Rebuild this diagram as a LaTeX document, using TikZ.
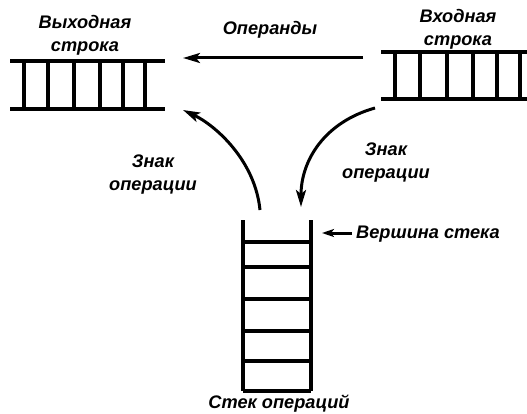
\documentclass[tikz,border=0pt]{standalone}
\usepackage{fontspec}
\setmainfont{Liberation Sans}
\usetikzlibrary{arrows.meta}
\tikzstyle{lbl}=[font=\fontsize{18.2}{23}\selectfont\bfseries\itshape,inner sep=0pt,align=center]
\tikzstyle{rail}=[line width=4pt]
\tikzstyle{cell}=[line width=3.5pt]
\tikzstyle{arr}=[line width=3pt,-{Stealth[length=17pt,width=10pt,inset=4pt]}]

\begin{document}
\begin{tikzpicture}[x=1pt,y=-1pt]
\useasboundingbox (0,0) rectangle (527,414);
% output string
\draw[rail] (10,61) -- (165,61); \draw[rail] (10,109) -- (165,109);
\foreach \x in {24,48,74,100,123,145} \draw[cell] (\x,61) -- (\x,109);
% input string
\draw[rail] (381,52) -- (527,52); \draw[rail] (381,99) -- (527,99);
\foreach \x in {395,420,447,473,497,520} \draw[cell] (\x,52) -- (\x,99);
% stack
\draw[cell] (243,220) -- (243,391); \draw[cell] (311,220) -- (311,391);
\foreach \y in {242,267,299,331,361,391} \draw[cell] (243,\y) -- (311,\y);

\node[lbl] (outstr) at (85,35) {Выходная\\строка};
\node[lbl] (instr) at (458,29) {Входная\\строка};
\node[lbl] (operands) at (270,30) {Операнды};
\node[lbl] (signl) at (153,175) {Знак\\операции};
\node[lbl] (signr) at (386,163) {Знак\\операции};
\node[lbl,anchor=west] (top) at (356,234) {Вершина стека};
\node[lbl] (stack) at (279,404) {Стек операций};

\coordinate (opsrc) at (363,58); \coordinate (opdst) at (183,58);
\coordinate (stl) at (260,210); \coordinate (outend) at (183,110);
\coordinate (inbeg) at (375,108); \coordinate (str) at (301,207);
\coordinate (topsrc) at (352,233); \coordinate (topdst) at (322,233);

\draw[arr] (opsrc) -- (opdst);
\draw[arr] (stl) .. controls (255,160) and (215,125) .. (outend);
\draw[arr] (inbeg) .. controls (325,122) and (301,160) .. (str);
\draw[line width=3pt,-{Stealth[length=12pt,width=8pt,inset=3pt]}] (topsrc) -- (topdst);
\end{tikzpicture}
\end{document}
